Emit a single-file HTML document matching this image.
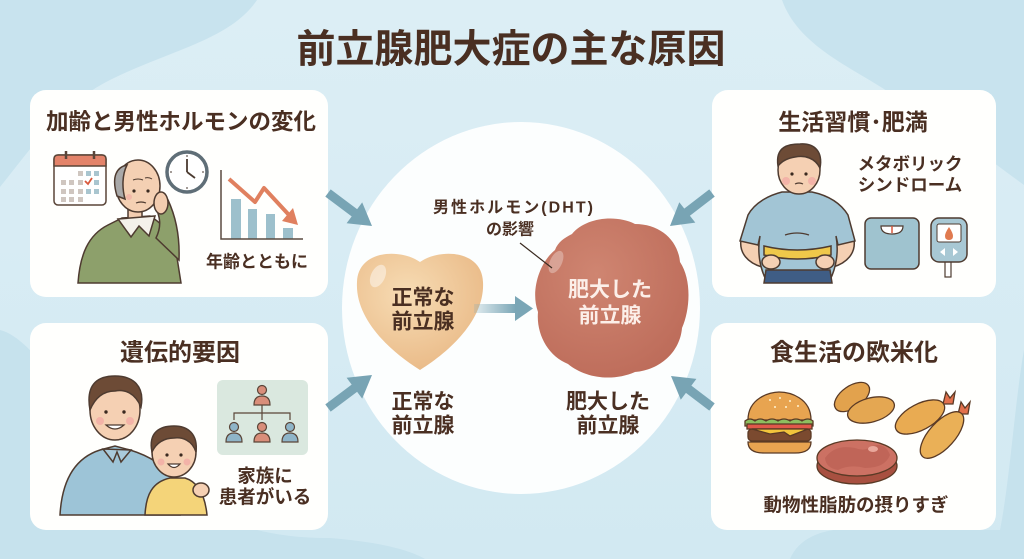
<!DOCTYPE html>
<html><head><meta charset="utf-8"><style>
html,body{margin:0;padding:0;width:1024px;height:559px;overflow:hidden;background:#d6ebf3;}
svg{display:block}
text{font-family:"Liberation Sans","Noto Sans CJK JP",sans-serif;font-weight:700;fill:#4a2f22;}
</style></head><body>
<svg width="1024" height="559" viewBox="0 0 1024 559" xmlns="http://www.w3.org/2000/svg">
<defs>
<radialGradient id="gN" cx="0.4" cy="0.35" r="0.7"><stop offset="0" stop-color="#f7dcb4"/><stop offset="1" stop-color="#e9b986"/></radialGradient>
<radialGradient id="gE" cx="0.4" cy="0.35" r="0.7"><stop offset="0" stop-color="#cf8571"/><stop offset="1" stop-color="#bd6c5a"/></radialGradient>
<linearGradient id="gA" x1="0" x2="1" y1="0" y2="0"><stop offset="0" stop-color="#7aa6b6" stop-opacity="0.2"/><stop offset="1" stop-color="#7aa6b6"/></linearGradient>
<linearGradient id="bg" x1="0" y1="0" x2="0" y2="1"><stop offset="0" stop-color="#dceef5"/><stop offset="1" stop-color="#d2e9f2"/></linearGradient>
</defs>

<!-- background -->
<rect width="1024" height="559" fill="url(#bg)"/>
<path d="M0,0 L257,0 C230,40 170,50 110,80 C60,105 30,150 0,187 Z" fill="#c8e3ee"/>
<path d="M782,0 C800,50 860,70 900,100 C950,130 990,160 1024,185 L1024,0 Z" fill="#c8e3ee"/>
<path d="M0,330 C60,345 120,540 330,538 C380,542 410,550 425,559 L0,559 Z" fill="#c6e2ed"/>
<path d="M790,559 C800,535 830,525 870,530 L1000,530 C1010,480 1015,400 1024,350 L1024,559 Z" fill="#c6e2ed"/>

<!-- title -->
<text x="511" y="50" font-size="39" text-anchor="middle" dominant-baseline="central">前立腺肥大症の主な原因</text>

<!-- center circle -->
<ellipse cx="521" cy="308" rx="179" ry="186" fill="#fcfefe"/>

<!-- cards -->
<rect x="30" y="90" width="298" height="207" rx="16" fill="#fffffd"/>
<rect x="712" y="90" width="284" height="207" rx="16" fill="#fffffd"/>
<rect x="30" y="323" width="298" height="207" rx="16" fill="#fffffd"/>
<rect x="711" y="323" width="285" height="207" rx="16" fill="#fffffd"/>

<!-- big arrows -->
<g fill="#78a4b4" stroke="#78a4b4">
<line x1="328" y1="193" x2="356" y2="214" stroke-width="9"/>
<polygon points="372,226 346.6,223.2 362.2,202.4" stroke="none"/>
<line x1="712" y1="193" x2="686" y2="213" stroke-width="9"/>
<polygon points="670,226 695.3,222.6 679.3,202.2" stroke="none"/>
<line x1="328" y1="408" x2="356" y2="387" stroke-width="9"/>
<polygon points="372,375 362.2,398.6 346.6,377.8" stroke="none"/>
<line x1="712" y1="407" x2="687" y2="388" stroke-width="9"/>
<polygon points="671,376 696.4,378.9 680.8,399.7" stroke="none"/>
</g>

<!-- card titles -->
<text x="181" y="122" font-size="22.5" text-anchor="middle" dominant-baseline="central">加齢と男性ホルモンの変化</text>
<text x="853" y="122" font-size="23" text-anchor="middle" dominant-baseline="central">生活習慣･肥満</text>
<text x="180" y="353" font-size="24" text-anchor="middle" dominant-baseline="central">遺伝的要因</text>
<text x="854" y="353" font-size="24" text-anchor="middle" dominant-baseline="central">食生活の欧米化</text>

<!-- ===== Top-left illustration ===== -->
<g stroke="#5a4538" stroke-width="1.5">
<rect x="54" y="155" width="52" height="50" rx="4" fill="#fff"/>
<path d="M54,166 L54,159 Q54,155 58,155 L102,155 Q106,155 106,159 L106,166 Z" fill="#e3836a"/>
<line x1="66" y1="151" x2="66" y2="159" stroke-width="2.5"/>
<line x1="94" y1="151" x2="94" y2="159" stroke-width="2.5"/>
</g>
<g fill="#cfc6c0">
<rect x="78" y="171" width="5" height="5"/><rect x="86" y="171" width="5" height="5" fill="#a9c5cf"/><rect x="94" y="171" width="5" height="5" fill="#a9c5cf"/>
<rect x="61" y="180" width="5" height="5"/><rect x="69" y="180" width="5" height="5"/><rect x="78" y="180" width="5" height="5"/><rect x="94" y="180" width="5" height="5" fill="#a9c5cf"/>
<rect x="61" y="189" width="5" height="5"/><rect x="69" y="189" width="5" height="5"/><rect x="78" y="189" width="5" height="5"/><rect x="86" y="189" width="5" height="5" fill="#a9c5cf"/><rect x="94" y="189" width="5" height="5" fill="#a9c5cf"/>
<rect x="61" y="197" width="5" height="5"/><rect x="69" y="197" width="5" height="5"/><rect x="78" y="197" width="5" height="5"/>
</g>
<path d="M85,181 L88,184 L92,178" stroke="#d9583c" stroke-width="1.8" fill="none"/>
<circle cx="187" cy="172" r="20" fill="#fff" stroke="#5f6e77" stroke-width="3.5"/>
<line x1="187" y1="172" x2="187" y2="159" stroke="#4a3a30" stroke-width="1.8"/>
<line x1="187" y1="172" x2="195" y2="178" stroke="#4a3a30" stroke-width="1.8"/>
<g stroke="#4a3a30" stroke-width="1"><line x1="187" y1="155" x2="187" y2="157"/><line x1="187" y1="187" x2="187" y2="189"/><line x1="170" y1="172" x2="172" y2="172"/><line x1="202" y1="172" x2="204" y2="172"/></g>
<g stroke="#4e3b30" stroke-width="1.5">
<path d="M78,283 C80,255 88,235 108,225 L122,218 L150,216 C160,222 170,232 175,245 L181,283 Z" fill="#8da06b"/>
<path d="M156,238 C162,226 160,216 155,206 L168,200 C175,215 180,235 179,260 Z" fill="#8da06b"/>
<rect x="128" y="206" width="14" height="14" fill="#f3cdb0"/>
<path d="M118,219 L131,237 L139,226 L149,236 L155,216 Z" fill="#f4f1ea"/>
<ellipse cx="138" cy="186" rx="22" ry="26" fill="#f4d0b3"/>
<path d="M117,196 C111,176 117,167 127,165 C122,175 122,188 125,199 Z" fill="#a9a9a9"/>
<ellipse cx="161" cy="203" rx="7" ry="11" fill="#f3cdb0"/>
</g>
<circle cx="134" cy="191" r="1.6" fill="#3a2a20"/><circle cx="148" cy="191" r="1.6" fill="#3a2a20"/>
<path d="M136,203 Q141,201 146,203" stroke="#4e3b30" fill="none" stroke-width="1.2"/>
<path d="M133,180 Q138,178 143,180 M145,178 Q149,177 152,179" stroke="#4e3b30" fill="none" stroke-width="1"/>
<circle cx="129" cy="197" r="3" fill="#f2a9a0" opacity="0.6"/>
<g fill="#9dc0cc">
<rect x="231" y="199" width="10" height="40"/><rect x="248" y="209" width="9" height="30"/><rect x="266" y="214" width="9" height="25"/><rect x="283" y="228" width="10" height="11"/>
</g>
<path d="M221,170 L221,239 L303,239" stroke="#5a4a40" stroke-width="1.5" fill="none"/>
<path d="M229,179 L255,202 L264,188 L289,215" stroke="#e0805f" stroke-width="4" fill="none" stroke-linejoin="round"/>
<polygon points="298,225 282,221 293,208" fill="#e0805f"/>
<text x="257" y="262" font-size="17" text-anchor="middle" dominant-baseline="central">年齢とともに</text>

<!-- ===== Top-right illustration ===== -->
<g stroke="#4e3b30" stroke-width="1.5">
<path d="M741,240 C739,253 748,263 762,267 L768,256 C761,252 759,248 758,244 Z" fill="#f5d0b3"/>
<path d="M854,240 C856,253 847,263 833,267 L827,256 C834,252 836,248 837,244 Z" fill="#f5d0b3"/>
<path d="M782,192 C770,195 755,202 748,215 L740,241 L758,245 L760,236 C757,252 760,268 766,280 L830,280 C836,268 839,252 836,236 L838,245 L855,241 L848,215 C840,202 826,195 812,192 Z" fill="#a2c5d5"/>
<path d="M766,270 L830,270 L832,283 L764,283 Z" fill="#3f5d85"/>
<path d="M764,246 Q797,254 831,246 L831,255 Q797,263 764,255 Z" fill="#efc84a"/>
<ellipse cx="771" cy="262" rx="9" ry="7" fill="#f5d0b3"/>
<ellipse cx="825" cy="262" rx="9" ry="7" fill="#f5d0b3"/>
<ellipse cx="799" cy="170" rx="21" ry="24" fill="#f5d0b3"/>
<path d="M778,166 C775,146 789,144 800,144 C815,143 823,152 820,168 C815,158 805,155 795,157 C788,158 782,161 778,166 Z" fill="#6d4b36"/>
</g>
<path d="M785,235 Q797,231 809,235" stroke="#4e3b30" fill="none" stroke-width="1.2"/>
<circle cx="792" cy="174" r="1.6" fill="#3a2a20"/><circle cx="806" cy="174" r="1.6" fill="#3a2a20"/>
<path d="M795,184 Q799,182 803,184" stroke="#4e3b30" fill="none" stroke-width="1.2"/>
<circle cx="786" cy="181" r="4" fill="#f2a0a0" opacity="0.6"/><circle cx="812" cy="181" r="4" fill="#f2a0a0" opacity="0.6"/>
<text x="910" y="164" font-size="17.5" text-anchor="middle" dominant-baseline="central">メタボリック</text>
<text x="910" y="185" font-size="17.5" text-anchor="middle" dominant-baseline="central">シンドローム</text>
<rect x="865" y="218" width="54" height="51" rx="6" fill="#9fc3cf" stroke="#4e3b30" stroke-width="1.5"/>
<path d="M881,226 L903,226 Q903,234 892,234 Q881,234 881,226 Z" fill="#fff" stroke="#4e3b30" stroke-width="1.2"/>
<line x1="892" y1="226" x2="892" y2="233" stroke="#d9583c" stroke-width="1.5"/>
<rect x="945" y="258" width="6" height="19" fill="#fff" stroke="#4e3b30" stroke-width="1.2"/>
<rect x="931" y="218" width="36" height="44" rx="8" fill="#a8c8d4" stroke="#4e3b30" stroke-width="1.5"/>
<rect x="937" y="224" width="24" height="18" rx="2" fill="#fff" stroke="#4e3b30" stroke-width="1"/>
<path d="M949,227 Q953,233 953,236 Q953,240 949,240 Q945,240 945,236 Q945,233 949,227 Z" fill="#e07a50"/>
<polygon points="940,252 945,248 945,256" fill="#fff"/><polygon points="958,252 953,248 953,256" fill="#fff"/>

<!-- ===== Bottom-left illustration ===== -->
<g stroke="#4e3b30" stroke-width="1.5">
<path d="M60,515 C62,480 75,458 100,450 L115,446 L130,450 C150,456 165,466 175,480 L180,515 Z" fill="#9dc4d7"/>
<path d="M103,449 L113,462 L117,452 L121,462 L131,450 Z" fill="#a9cadb"/>
<ellipse cx="115" cy="410" rx="25" ry="30" fill="#f5d0b3"/>
<path d="M90,410 C85,382 100,376 115,376 C133,376 145,386 141,407 C135,393 125,389 115,391 C103,391 95,398 90,410 Z" fill="#6d4b36"/>
<path d="M145,515 C146,495 152,482 170,478 L185,478 C198,482 205,495 207,515 Z" fill="#f4d479"/>
<ellipse cx="174" cy="452" rx="22" ry="25" fill="#f5d0b3"/>
<path d="M152,452 C148,432 160,426 174,426 C188,426 198,434 196,452 C192,440 182,437 174,438 C164,438 156,443 152,452 Z" fill="#6d4b36"/>
<ellipse cx="201" cy="490" rx="8" ry="7" fill="#f5d0b3"/>
</g>
<circle cx="106" cy="412" r="1.7" fill="#3a2a20"/><circle cx="124" cy="412" r="1.7" fill="#3a2a20"/>
<path d="M106,425 Q115,433 124,425 Z" fill="#fff" stroke="#4e3b30" stroke-width="1.2"/>
<circle cx="100" cy="421" r="4" fill="#f2a0a0" opacity="0.6"/><circle cx="130" cy="421" r="4" fill="#f2a0a0" opacity="0.6"/>
<circle cx="167" cy="455" r="1.6" fill="#3a2a20"/><circle cx="181" cy="455" r="1.6" fill="#3a2a20"/>
<path d="M168,464 Q174,471 180,464 Z" fill="#fff" stroke="#4e3b30" stroke-width="1.2"/>
<circle cx="161" cy="462" r="3.5" fill="#f2a0a0" opacity="0.6"/><circle cx="187" cy="462" r="3.5" fill="#f2a0a0" opacity="0.6"/>
<rect x="217" y="380" width="91" height="75" rx="6" fill="#dae8df"/>
<g stroke="#5a4538" stroke-width="1.2">
<path d="M262,405 L262,413 M234,420 L234,413 L290,413 L290,420 M262,413 L262,420" fill="none"/>
<circle cx="262" cy="390" r="4.5" fill="#d98e7a"/><path d="M254,405 Q254,396 262,396 Q270,396 270,405 Z" fill="#d98e7a"/>
<circle cx="234" cy="427" r="4.5" fill="#8fb5c8"/><path d="M226,442 Q226,433 234,433 Q242,433 242,442 Z" fill="#8fb5c8"/>
<circle cx="262" cy="427" r="4.5" fill="#d98e7a"/><path d="M254,442 Q254,433 262,433 Q270,433 270,442 Z" fill="#d98e7a"/>
<circle cx="290" cy="427" r="4.5" fill="#8fb5c8"/><path d="M282,442 Q282,433 290,433 Q298,433 298,442 Z" fill="#8fb5c8"/>
</g>
<text x="265" y="476" font-size="18.5" text-anchor="middle" dominant-baseline="central">家族に</text>
<text x="265" y="497" font-size="18.5" text-anchor="middle" dominant-baseline="central">患者がいる</text>

<!-- ===== Bottom-right illustration ===== -->
<g stroke="#5a3a25" stroke-width="1.3">
<path d="M748,420 C748,398 770,392 779,392 C790,392 811,398 811,420 Z" fill="#e8a450"/>
<path d="M745,421 Q750,417 755,421 Q760,417 766,421 Q772,417 778,421 Q784,417 790,421 Q796,417 802,421 Q808,417 813,421 L813,426 L745,426 Z" fill="#8dbf5f"/>
<rect x="747" y="424" width="65" height="5" fill="#e0584a"/>
<rect x="748" y="429" width="63" height="12" rx="4" fill="#7b4a2f"/>
<path d="M752,429 L808,429 L790,436 L784,432 L770,434 Z" fill="#f3c53c"/>
<path d="M748,442 L811,442 C811,450 805,453 795,453 L764,453 C754,453 748,450 748,442 Z" fill="#e8a450"/>
<ellipse cx="852" cy="397" rx="20" ry="11" transform="rotate(-35 852 397)" fill="#e2a24d"/>
<ellipse cx="871" cy="410" rx="24" ry="12" transform="rotate(-15 871 410)" fill="#e4a752"/>
<path d="M943,404 L946,392 L950,398 L955,392 L953,404 Z" fill="#e2704c"/>
<ellipse cx="920" cy="417" rx="27" ry="13" transform="rotate(-28 920 417)" fill="#e9ab52"/>
<path d="M958,414 L961,402 L965,408 L970,402 L968,414 Z" fill="#e2704c"/>
<ellipse cx="942" cy="435" rx="29" ry="13" transform="rotate(-48 942 435)" fill="#eab057"/>
<ellipse cx="857" cy="466" rx="40" ry="18" fill="#a85040"/>
<ellipse cx="857" cy="458" rx="40" ry="18" fill="#cc7163"/>
</g>
<path d="M825,458 Q835,444 855,448 Q865,452 872,446 Q885,442 890,455 Q885,468 865,468 Q850,464 838,470 Q826,468 825,458 Z" fill="#b85e52" opacity="0.6"/>
<ellipse cx="873" cy="449" rx="5" ry="3" fill="#e9a79b"/>
<g fill="#fff4d0"><circle cx="770" cy="400" r="1"/><circle cx="780" cy="398" r="1"/><circle cx="790" cy="401" r="1"/><circle cx="775" cy="407" r="1"/><circle cx="786" cy="407" r="1"/><circle cx="798" cy="406" r="1"/></g>
<text x="856" y="505" font-size="18.5" text-anchor="middle" dominant-baseline="central">動物性脂肪の摂りすぎ</text>

<!-- ===== Center ===== -->
<path d="M420,262 C440,248 482,250 483,282 C485,318 452,350 420,370 C388,350 355,318 357,282 C358,250 400,248 420,262 Z" fill="url(#gN)"/>
<ellipse cx="378" cy="276" rx="7" ry="12" fill="#fff" opacity="0.45" transform="rotate(25 378 276)"/>
<path d="M572,234 C585,218 615,214 635,224 C660,224 678,240 680,262 C692,280 690,310 682,328 C680,352 660,370 635,372 C612,382 585,378 568,364 C548,356 536,334 538,312 C530,290 540,262 555,250 C558,242 564,238 572,234 Z" fill="url(#gE)"/>
<ellipse cx="556" cy="262" rx="6" ry="12" fill="#fff" opacity="0.3" transform="rotate(25 556 262)"/>
<rect x="474" y="304" width="42" height="9" fill="url(#gA)"/>
<polygon points="515,296 533,308.5 515,321" fill="#7aa6b6"/>
<text x="433" y="208" font-size="16" dominant-baseline="central" textLength="160" lengthAdjust="spacing">男性ホルモン(DHT)</text>
<text x="510" y="230" font-size="16" text-anchor="middle" dominant-baseline="central">の影響</text>
<line x1="520" y1="243" x2="552" y2="268" stroke="#3a2a20" stroke-width="1.2"/>
<text x="423" y="298" font-size="21" text-anchor="middle" dominant-baseline="central">正常な</text>
<text x="423" y="322" font-size="21" text-anchor="middle" dominant-baseline="central">前立腺</text>
<text x="610" y="290" font-size="21" text-anchor="middle" dominant-baseline="central" style="fill:#fcefe9">肥大した</text>
<text x="610" y="316" font-size="21" text-anchor="middle" dominant-baseline="central" style="fill:#fcefe9">前立腺</text>
<text x="423" y="402" font-size="21" text-anchor="middle" dominant-baseline="central">正常な</text>
<text x="423" y="426" font-size="21" text-anchor="middle" dominant-baseline="central">前立腺</text>
<text x="608" y="402" font-size="21" text-anchor="middle" dominant-baseline="central">肥大した</text>
<text x="608" y="426" font-size="21" text-anchor="middle" dominant-baseline="central">前立腺</text>
</svg>
</body></html>
